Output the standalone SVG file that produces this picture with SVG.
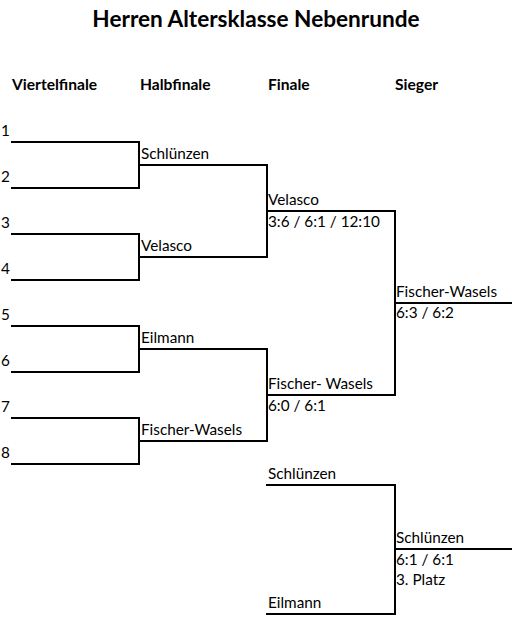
<svg xmlns="http://www.w3.org/2000/svg" width="512" height="621" viewBox="0 0 512 621">
<style>
text{font-family:Lato,"Open Sans","Liberation Sans",sans-serif;fill:#000}
.t{font-size:22.6px;font-weight:bold}
.h{font-size:15.6px;font-weight:bold}
.n{font-size:15.3px}
.c{fill:none;stroke:#000;stroke-width:2}
</style>
<rect width="512" height="621" fill="#fff"/>
<g id="title"><text class="t" x="256" y="27" text-anchor="middle">Herren Altersklasse Nebenrunde</text></g>
<g id="headers">
<text class="h" x="12" y="90">Viertelfinale</text>
<text class="h" x="140" y="90">Halbfinale</text>
<text class="h" x="268" y="90">Finale</text>
<text class="h" x="395" y="90">Sieger</text>
</g>
<g id="connectors">
<path class="c" d="M11,142H139V188H11"/>
<path class="c" d="M11,234H139V280H11"/>
<path class="c" d="M11,326H139V372H11"/>
<path class="c" d="M11,418H139V464H11"/>
<path class="c" d="M139,165H267V257H139"/>
<path class="c" d="M139,349H267V441H139"/>
<path class="c" d="M267,211H395V395H267"/>
<path class="c" d="M395,303H512"/>
<path class="c" d="M266,485H395V614H266"/>
<path class="c" d="M395,549H512"/>
</g>
<g id="qf1"><text class="n" x="1" y="136">1</text></g>
<g id="qf2"><text class="n" x="1" y="182">2</text></g>
<g id="qf3"><text class="n" x="1" y="228">3</text></g>
<g id="qf4"><text class="n" x="1" y="274">4</text></g>
<g id="qf5"><text class="n" x="1" y="320">5</text></g>
<g id="qf6"><text class="n" x="1" y="366">6</text></g>
<g id="qf7"><text class="n" x="1" y="412">7</text></g>
<g id="qf8"><text class="n" x="1" y="458">8</text></g>
<g id="sf1"><text class="n" x="141" y="159">Schlünzen</text></g>
<g id="sf2"><text class="n" x="141" y="251">Velasco</text></g>
<g id="sf3"><text class="n" x="141" y="343">Eilmann</text></g>
<g id="sf4"><text class="n" x="141" y="435">Fischer-Wasels</text></g>
<g id="f1"><text class="n" x="268" y="205">Velasco</text><text class="n" x="268" y="227">3:6 / 6:1 / 12:10</text></g>
<g id="f2"><text class="n" x="268" y="389">Fischer- Wasels</text><text class="n" x="268" y="411">6:0 / 6:1</text></g>
<g id="winner"><text class="n" x="396" y="297">Fischer-Wasels</text><text class="n" x="396" y="318">6:3 / 6:2</text></g>
<g id="p3a"><text class="n" x="268" y="479">Schlünzen</text></g>
<g id="p3b"><text class="n" x="268" y="608">Eilmann</text></g>
<g id="third"><text class="n" x="396" y="543">Schlünzen</text><text class="n" x="396" y="565">6:1 / 6:1</text><text class="n" x="396" y="585">3. Platz</text></g>
</svg>
